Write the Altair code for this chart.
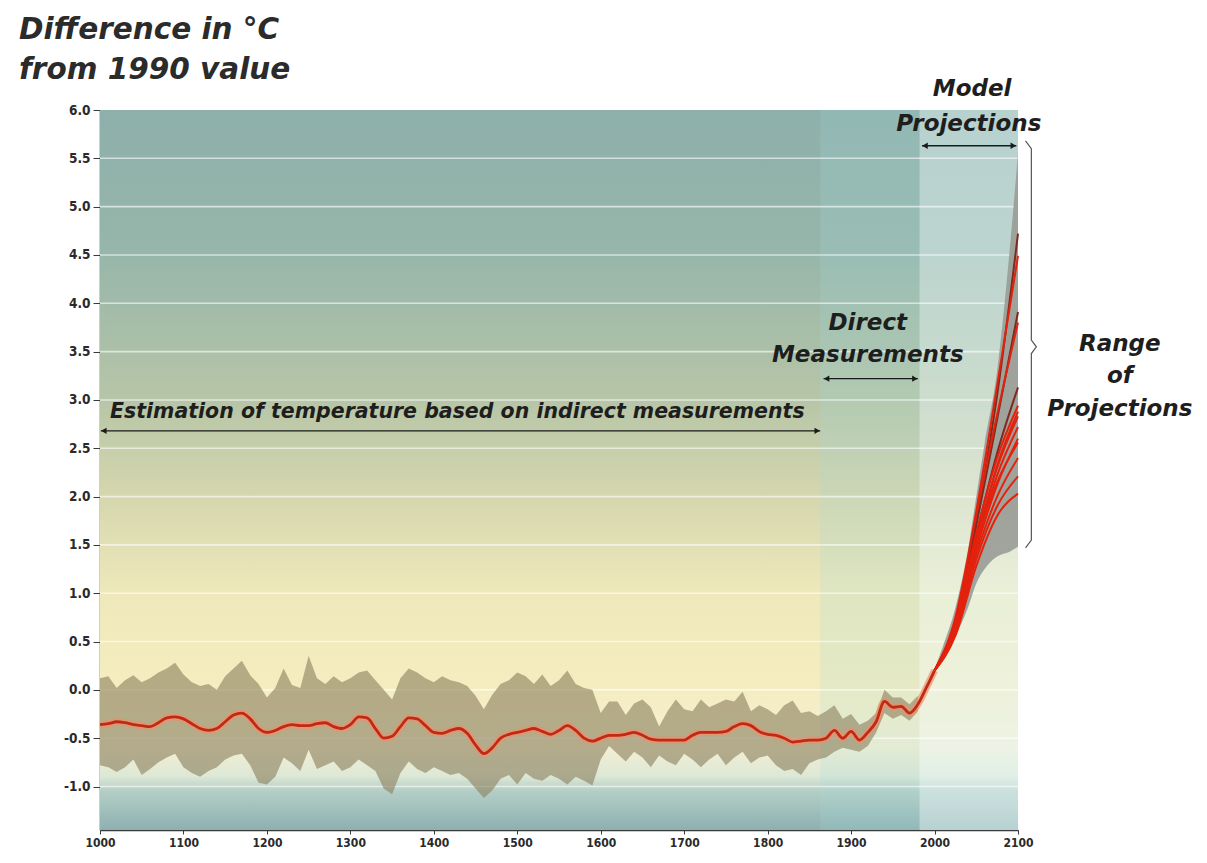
import altair as alt
import pandas as pd

# ---------------- data ----------------
hist_years = list(range(1000, 1990, 10))          # 1000 .. 1980
band_upper = [
    0.12, 0.14, 0.02, 0.10, 0.15, 0.08, 0.12, 0.18, 0.22, 0.28,
    0.16, 0.08, 0.04, 0.06, 0.00, 0.14, 0.22, 0.30, 0.15, 0.06,
    -0.08, 0.02, 0.22, 0.05, 0.02, 0.35, 0.12, 0.06, 0.14, 0.08,
    0.12, 0.18, 0.20, 0.10, 0.00, -0.10, 0.12, 0.22, 0.18, 0.12,
    0.08, 0.14, 0.10, 0.08, 0.04, -0.06, -0.20, -0.05, 0.06, 0.10,
    0.18, 0.14, 0.06, 0.16, 0.04, 0.10, 0.20, 0.06, 0.02, 0.00,
    -0.24, -0.12, -0.12, -0.26, -0.14, -0.10, -0.18, -0.38, -0.22, -0.10,
    -0.20, -0.22, -0.10, -0.18, -0.14, -0.10, -0.12, -0.02, -0.22, -0.16,
    -0.20, -0.26, -0.16, -0.11, -0.24, -0.22, -0.27, -0.22, -0.16, -0.30,
    -0.25, -0.36, -0.32, -0.24, 0.00, -0.08, -0.08, -0.15, -0.06,
]
band_lower = [
    -0.78, -0.80, -0.85, -0.80, -0.72, -0.88, -0.82, -0.75, -0.70, -0.66,
    -0.80, -0.86, -0.90, -0.84, -0.80, -0.72, -0.68, -0.66, -0.78, -0.96,
    -0.98, -0.90, -0.70, -0.76, -0.84, -0.62, -0.82, -0.78, -0.74, -0.84,
    -0.80, -0.72, -0.78, -0.84, -1.02, -1.08, -0.86, -0.74, -0.82, -0.86,
    -0.80, -0.84, -0.88, -0.86, -0.92, -1.02, -1.12, -1.04, -0.92, -0.88,
    -0.98, -0.86, -0.92, -0.94, -0.88, -0.92, -0.98, -0.90, -0.94, -0.99,
    -0.72, -0.58, -0.66, -0.74, -0.64, -0.70, -0.80, -0.68, -0.74, -0.78,
    -0.66, -0.72, -0.80, -0.72, -0.66, -0.78, -0.70, -0.64, -0.76, -0.70,
    -0.68, -0.78, -0.84, -0.82, -0.88, -0.76, -0.72, -0.70, -0.64, -0.60,
    -0.62, -0.64, -0.58, -0.44, -0.24, -0.30, -0.26, -0.32, -0.22,
]
mean_years = list(range(1000, 2010, 10))          # 1000 .. 2000
mean_temp = [
    -0.36, -0.35, -0.33, -0.34, -0.36, -0.37, -0.38, -0.34, -0.29, -0.28,
    -0.30, -0.35, -0.40, -0.42, -0.40, -0.33, -0.26, -0.24, -0.30, -0.40,
    -0.44, -0.42, -0.38, -0.36, -0.37, -0.37, -0.35, -0.34, -0.38, -0.40,
    -0.36, -0.28, -0.29, -0.40, -0.50, -0.48, -0.38, -0.29, -0.30, -0.37,
    -0.44, -0.45, -0.42, -0.40, -0.45, -0.57, -0.66, -0.60, -0.50, -0.46,
    -0.44, -0.42, -0.40, -0.43, -0.46, -0.42, -0.37, -0.42, -0.50, -0.53,
    -0.50, -0.47, -0.47, -0.46, -0.44, -0.47, -0.51, -0.52, -0.52, -0.52,
    -0.52, -0.47, -0.44, -0.44, -0.44, -0.43, -0.38, -0.35, -0.37, -0.43,
    -0.46, -0.47, -0.50, -0.54, -0.53, -0.52, -0.52, -0.50, -0.42, -0.50,
    -0.43, -0.52, -0.44, -0.33, -0.12, -0.18, -0.17, -0.24, -0.15, 0.02,
    0.20,
]
env_years = [2000, 2010, 2025, 2040, 2050, 2060, 2075, 2090, 2100]
env_top = [0.22, 0.45, 0.85, 1.45, 2.00, 2.55, 3.30, 4.55, 5.55]
env_bottom = [0.18, 0.30, 0.55, 0.85, 1.10, 1.25, 1.38, 1.43, 1.48]

proj_years = [2000, 2025, 2050, 2075, 2100]
proj_runs = [
    [0.20, 0.70, 1.75, 3.05, 4.72],
    [0.20, 0.75, 1.85, 3.15, 4.49],
    [0.20, 0.70, 1.70, 2.80, 3.91],
    [0.20, 0.72, 1.80, 2.85, 3.80],
    [0.20, 0.68, 1.60, 2.45, 3.13],
    [0.20, 0.70, 1.62, 2.40, 2.94],
    [0.20, 0.64, 1.50, 2.32, 2.88],
    [0.20, 0.66, 1.55, 2.30, 2.83],
    [0.20, 0.64, 1.50, 2.22, 2.72],
    [0.20, 0.62, 1.45, 2.12, 2.60],
    [0.20, 0.66, 1.52, 2.15, 2.56],
    [0.20, 0.60, 1.40, 2.00, 2.40],
    [0.20, 0.58, 1.35, 1.90, 2.21],
    [0.20, 0.56, 1.28, 1.80, 2.03],
]
dark_runs = [0, 2, 4]

y_ticks = [-1.0, -0.5, 0.0, 0.5, 1.0, 1.5, 2.0, 2.5, 3.0, 3.5, 4.0, 4.5, 5.0, 5.5, 6.0]
x_ticks = [1000, 1100, 1200, 1300, 1400, 1500, 1600, 1700, 1800, 1900, 2000, 2100]
grid_vals = [-1.0, -0.5, 0.0, 0.5, 1.0, 1.5, 2.0, 2.5, 3.0, 3.5, 4.0, 4.5, 5.0, 5.5]

bracket_x = [2109, 2116, 2116, 2122, 2116, 2116, 2109]
bracket_y = [5.68, 5.60, 3.62, 3.55, 3.48, 1.55, 1.47]

# ---------------- tables ----------------
band_df = pd.DataFrame({"year": hist_years, "hi": band_upper, "lo": band_lower})
mean_df = pd.DataFrame({"year": mean_years, "t": mean_temp})
env_df = pd.DataFrame({"year": env_years, "hi": env_top, "lo": env_bottom})
proj_df = pd.DataFrame(
    [
        {"year": yr, "t": v, "run": i, "kind": "dark" if i in dark_runs else "red"}
        for i, run in enumerate(proj_runs)
        for yr, v in zip(proj_years, run)
    ]
)
grid_df = pd.DataFrame({"v": grid_vals})
bracket_df = pd.DataFrame({"x": bracket_x, "y": bracket_y, "i": list(range(len(bracket_x)))})
one = pd.DataFrame({"a": [0]})

# ---------------- scales / axes ----------------
W, H = 918, 720
xs = alt.Scale(domain=[1000, 2100], nice=False, zero=False)
ys = alt.Scale(domain=[-1.45, 6.0], nice=False, zero=False)
xaxis = alt.Axis(values=x_ticks, format="d", grid=False, tickSize=4, labelPadding=3,
                 labelFont="DejaVu Sans Condensed", labelFontSize=12, labelFontWeight="bold",
                 labelColor="#2a2a2a", domainColor="#3a3a3a", domainWidth=1.5,
                 tickColor="#3a3a3a", labelFlush=False)
yaxis = alt.Axis(values=y_ticks, grid=False, tickSize=7, labelPadding=3,
                 labelExpr="replace(format(datum.value, '.1f'), '\u2212', '-')",
                 labelFont="DejaVu Sans Condensed", labelFontSize=13.5, labelFontWeight="bold",
                 labelColor="#2a2a2a", domainColor="#3a3a3a", domainWidth=1.5,
                 tickColor="#3a3a3a")


def X(field):
    return alt.X(field, type="quantitative", scale=xs, axis=xaxis, title=None)


def Y(field):
    return alt.Y(field, type="quantitative", scale=ys, axis=yaxis, title=None)


# ---------------- background ----------------
grad = alt.LinearGradient(
    gradient="linear", x1=0, x2=0, y1=0, y2=1,
    stops=[
        alt.GradientStop(color="#8eb0aa", offset=0.0),
        alt.GradientStop(color="#97b6aa", offset=0.20),
        alt.GradientStop(color="#b6c5a7", offset=0.40),
        alt.GradientStop(color="#d6d7ae", offset=0.54),
        alt.GradientStop(color="#eee8bb", offset=0.67),
        alt.GradientStop(color="#f5edc0", offset=0.80),
        alt.GradientStop(color="#f3efd3", offset=0.885),
        alt.GradientStop(color="#dde8d6", offset=0.925),
        alt.GradientStop(color="#b4cec6", offset=0.946),
        alt.GradientStop(color="#8db0b0", offset=1.0),
    ],
)
bg = alt.Chart(one).mark_rect(color=grad).encode(
    x=alt.value(0), x2=alt.value(W), y=alt.value(0), y2=alt.value(H)
)
direct_zone = alt.Chart(one).mark_rect(color="#a6dcdc", opacity=0.2).encode(
    x=alt.datum(1863, scale=xs), x2=alt.datum(1982), y=alt.value(0), y2=alt.value(H)
)
model_zone = alt.Chart(one).mark_rect(color="#e6f6f8", opacity=0.47).encode(
    x=alt.datum(1982, scale=xs), x2=alt.datum(2100), y=alt.value(0), y2=alt.value(H)
)
grid = alt.Chart(grid_df).mark_rule(color="white", opacity=0.6, strokeWidth=1.6).encode(
    y=Y("v")
)

# ---------------- data marks ----------------
band = alt.Chart(band_df).mark_area(color="#8c8160", opacity=0.62, interpolate="linear").encode(
    x=X("year"), y=Y("hi"), y2="lo"
)
env = alt.Chart(env_df).mark_area(color="#9a9d97", opacity=0.92, interpolate="monotone").encode(
    x=X("year"), y=Y("hi"), y2="lo"
)
proj = alt.Chart(proj_df).mark_line(strokeWidth=2, interpolate="monotone").encode(
    x=X("year"), y=Y("t"), detail="run:N",
    color=alt.Color("kind:N", scale=alt.Scale(domain=["red", "dark"], range=["#e3220d", "#7c2b20"]),
                    legend=None),
)
halo = alt.Chart(mean_df).mark_line(color="#ec8f6c", strokeWidth=7, opacity=0.7,
                                    interpolate="monotone").encode(x=X("year"), y=Y("t"))
mean_line = alt.Chart(mean_df).mark_line(color="#c02a14", strokeWidth=2.8,
                                         interpolate="monotone").encode(x=X("year"), y=Y("t"))

bracket = alt.Chart(bracket_df).mark_line(color="#555555", strokeWidth=1.2).encode(
    x=alt.X("x:Q", scale=xs, axis=xaxis, title=None),
    y=alt.Y("y:Q", scale=ys, axis=yaxis, title=None),
    order="i:Q",
)


# ---------------- annotations ----------------
def arrow(x1, x2, yv):
    line = alt.Chart(one).mark_rule(color="#1a1a1a", strokeWidth=1.3).encode(
        x=alt.datum(x1), x2=alt.datum(x2), y=alt.datum(yv)
    )
    left = alt.Chart(one).mark_point(shape="triangle-left", filled=True, size=40, color="#1a1a1a",
                                     opacity=1, xOffset=3).encode(x=alt.datum(x1), y=alt.datum(yv))
    right = alt.Chart(one).mark_point(shape="triangle-right", filled=True, size=40, color="#1a1a1a",
                                      opacity=1, xOffset=-3).encode(x=alt.datum(x2), y=alt.datum(yv))
    return [line, left, right]


def label(txt, xv, yv, size, align="center"):
    return alt.Chart(one).mark_text(
        text=txt, font="DejaVu Sans", fontStyle="italic", fontWeight="bold", fontSize=size,
        color="#1e1e1e", align=align, baseline="middle"
    ).encode(x=alt.datum(xv), y=alt.datum(yv))


def title_line(txt, yv):
    return alt.Chart(one).mark_text(
        text=txt, font="DejaVu Sans", fontStyle="italic", fontWeight="bold", fontSize=29.5,
        color="#2b2b2b", align="left", baseline="middle"
    ).encode(x=alt.value(-81), y=alt.value(yv))


annotations = (
    arrow(1001, 1863, 2.68)
    + arrow(1867, 1980, 3.22)
    + arrow(1985, 2098, 5.63)
    + [
        label("Estimation of temperature based on indirect measurements", 1012, 2.87, 20.5, "left"),
        label("Direct", 1920, 3.80, 23),
        label("Measurements", 1920, 3.46, 23),
        label("Model", 2045, 6.22, 23),
        label("Projections", 2041, 5.86, 23),
        label("Range", 2222, 3.58, 23),
        label("of", 2222, 3.25, 23),
        label("Projections", 2222, 2.91, 23),
        title_line("Difference in \u00b0C", -80),
        title_line("from 1990 value", -40),
    ]
)

chart = alt.layer(
    bg, direct_zone, model_zone, grid, band, env, proj, halo, mean_line, bracket, *annotations
).properties(
    width=W, height=H,
    autosize=alt.AutoSizeParams(type="none"),
    padding={"left": 92, "top": 102, "right": 178, "bottom": 18},
).configure_view(stroke=None)

chart.save("out.html", embed_options={"renderer": "svg", "actions": False})
